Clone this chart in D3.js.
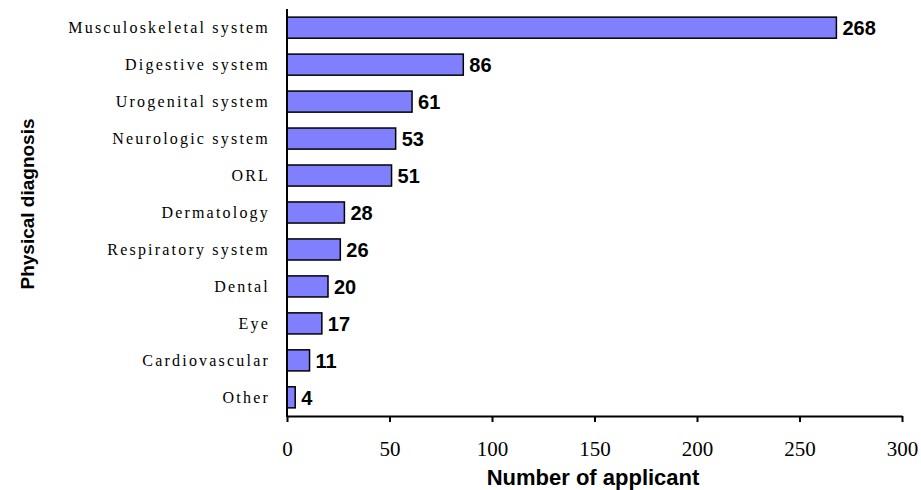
<!DOCTYPE html>
<html>
<head>
<meta charset="utf-8">
<script src="https://cdn.jsdelivr.net/npm/d3@7/dist/d3.min.js"></script>
<style>
  html, body { margin: 0; padding: 0; background: #fff; }
  svg { display: block; }
</style>
</head>
<body>
<svg id="chart" width="921" height="490"></svg>
<script>
// Physical diagnosis of applicants, counts per category
const categories = [
  "Musculoskeletal system", "Digestive system", "Urogenital system",
  "Neurologic system", "ORL", "Dermatology", "Respiratory system",
  "Dental", "Eye", "Cardiovascular", "Other"
];
const applicants = [268, 86, 61, 53, 51, 28, 26, 20, 17, 11, 4];
const xTicks = [0, 50, 100, 150, 200, 250, 300];

const svg = d3.select("#chart");
const plot = { left: 287, right: 902, top: 9, bottom: 416 };

const x = d3.scaleLinear().domain([0, 300]).range([plot.left, plot.right]);
const y = d3.scaleBand().domain(categories).range([plot.top, plot.bottom])
  .paddingInner(0.43).paddingOuter(0.22);

// bars
svg.append("g").selectAll("rect")
  .data(categories)
  .join("rect")
  .attr("x", x(0))
  .attr("y", d => y(d))
  .attr("width", (d, i) => x(applicants[i]) - x(0))
  .attr("height", y.bandwidth())
  .attr("fill", "#8080ff")
  .attr("stroke", "#000")
  .attr("stroke-width", 1.5);

// value labels
svg.append("g").selectAll("text")
  .data(categories)
  .join("text")
  .attr("x", (d, i) => x(applicants[i]) + 6)
  .attr("y", d => y(d) + y.bandwidth() / 2)
  .attr("dy", "0.36em")
  .attr("font-family", "Liberation Sans, Arial, sans-serif")
  .attr("font-weight", "bold")
  .attr("font-size", 20)
  .text((d, i) => applicants[i]);

// category labels
svg.append("g").selectAll("text")
  .data(categories)
  .join("text")
  .attr("x", 270)
  .attr("y", d => y(d) + y.bandwidth() / 2)
  .attr("dy", "0.35em")
  .attr("text-anchor", "end")
  .attr("font-family", "Liberation Serif, Times New Roman, serif")
  .attr("font-size", 16)
  .attr("letter-spacing", "2.2px")
  .text(d => d);

// x axis
const xAxis = svg.append("g")
  .attr("transform", `translate(0,${plot.bottom})`)
  .call(d3.axisBottom(x).tickValues(xTicks).tickSize(6).tickSizeOuter(0).tickPadding(19));
xAxis.select(".domain").attr("stroke", "#000").attr("stroke-width", 2);
xAxis.selectAll(".tick line").attr("stroke", "#000").attr("stroke-width", 2);
xAxis.selectAll(".tick text")
  .attr("font-family", "Liberation Serif, Times New Roman, serif")
  .attr("font-size", 21)
  .attr("fill", "#000");

// y axis line
svg.append("line")
  .attr("x1", plot.left).attr("x2", plot.left)
  .attr("y1", plot.top).attr("y2", plot.bottom + 1)
  .attr("stroke", "#000").attr("stroke-width", 2);

// axis titles
svg.append("text")
  .attr("x", 593)
  .attr("y", 485)
  .attr("text-anchor", "middle")
  .attr("font-family", "Liberation Sans, Arial, sans-serif")
  .attr("font-weight", "bold")
  .attr("font-size", 22)
  .text("Number of applicant");

svg.append("text")
  .attr("transform", "translate(34,204) rotate(-90)")
  .attr("text-anchor", "middle")
  .attr("font-family", "Liberation Sans, Arial, sans-serif")
  .attr("font-weight", "bold")
  .attr("font-size", 19)
  .text("Physical diagnosis");
</script>
</body>
</html>
